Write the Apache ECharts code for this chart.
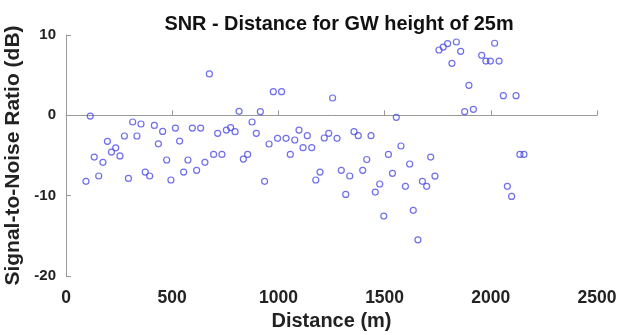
<!DOCTYPE html>
<html>
<head>
<meta charset="utf-8">
<script src="https://cdn.jsdelivr.net/npm/echarts@6/dist/echarts.min.js"></script>
<style>html,body{margin:0;padding:0;background:#fff;}#c{width:618px;height:335px;}</style>
</head>
<body>
<div id="c"></div>
<script>
const distances = [94,114,133,154,174,195,214,234,254,275,294,314,334,353,373,394,416,435,455,474,494,515,535,554,574,595,615,634,654,675,695,714,734,755,775,796,815,835,855,876,896,915,935,956,976,996,1015,1036,1056,1077,1097,1116,1136,1157,1176,1196,1216,1237,1255,1276,1296,1317,1336,1356,1376,1397,1416,1436,1456,1477,1496,1518,1537,1555,1577,1598,1618,1635,1657,1678,1698,1717,1737,1756,1776,1797,1817,1838,1858,1877,1897,1918,1938,1957,1977,1998,2018,2039,2059,2078,2098,2119,2137,2156];
const snr = [-8.22,-0.09,-5.2,-7.55,-5.85,-3.24,-4.57,-4.05,-5.05,-2.57,-7.85,-0.83,-2.57,-1.08,-7.06,-7.55,-1.25,-3.55,-2.0,-5.56,-8.05,-1.58,-3.2,-7.06,-5.56,-1.58,-6.85,-1.58,-5.85,5.15,-4.86,-2.24,-4.86,-1.83,-1.53,-2.03,0.5,-5.45,-4.86,-0.83,-2.24,0.46,-8.22,-3.57,2.95,-2.86,2.95,-2.86,-4.86,-3.07,-1.83,-4.03,-2.53,-4.03,-8.05,-7.06,-2.82,-2.24,2.16,-2.86,-6.85,-9.84,-7.55,-2.03,-2.53,-6.85,-5.5,-2.53,-9.55,-8.55,-12.54,-4.86,-7.22,-0.25,-3.82,-8.84,-6.06,-11.83,-15.5,-8.22,-8.84,-5.2,-7.56,8.13,8.5,8.93,6.48,9.13,7.97,0.46,3.74,0.75,10.12,7.47,6.76,6.76,8.97,6.76,2.45,-8.84,-10.09,2.45,-4.86,-4.86];
const titleText = 'SNR - Distance for GW height of 25m';
const xName = 'Distance (m)';
const yName = 'Signal-to-Noise Ratio (dB)';

const chart = echarts.init(document.getElementById('c'), null, {renderer: 'canvas'});
const font = 'Liberation Sans, Arial, sans-serif';
chart.setOption({
  animation: false,
  title: {
    text: titleText, left: 334, top: 10, textAlign: 'center',
    textStyle: {fontFamily: font, fontWeight: 'bold', fontSize: 19.9, color: '#111'}
  },
  grid: {left: 66, right: 21, top: 35, bottom: 59, containLabel: false, outerBoundsMode: 'none'},
  xAxis: {
    type: 'value', min: 0, max: 2500, interval: 500,
    name: xName, nameLocation: 'middle', nameGap: 35,
    nameTextStyle: {fontFamily: font, fontWeight: 'bold', fontSize: 20, color: '#222'},
    axisLine: {lineStyle: {color: '#999', width: 1}},
    axisTick: {inside: true, length: 5, lineStyle: {color: '#999'}},
    axisLabel: {fontFamily: font, fontWeight: 'bold', fontSize: 17.5, color: '#222', margin: 13,
      formatter: v => String(v)},
    splitLine: {show: false}
  },
  yAxis: {
    type: 'value', min: -20, max: 10, interval: 10,
    name: yName, nameLocation: 'middle', nameGap: 34, nameRotate: 90,
    nameTextStyle: {fontFamily: font, fontWeight: 'bold', fontSize: 21, color: '#222'},
    axisLine: {show: true, lineStyle: {color: '#999', width: 1}},
    axisTick: {show: true, inside: true, length: 5, lineStyle: {color: '#999'}},
    axisLabel: {fontFamily: font, fontWeight: 'bold', fontSize: 15, color: '#222', margin: 10},
    splitLine: {show: false}
  },
  series: [{
    type: 'scatter',
    data: distances.map((d, i) => [d, snr[i]]),
    symbol: 'circle', symbolSize: 6,
    itemStyle: {color: 'rgba(0,0,0,0)', borderColor: '#4b4be6', borderWidth: 1.2}
  }]
});
</script>
</body>
</html>
